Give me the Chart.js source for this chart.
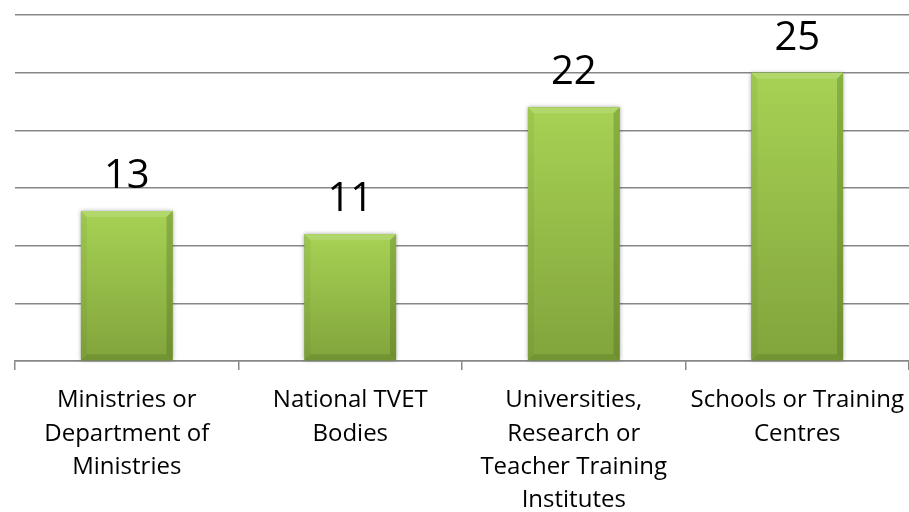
<!DOCTYPE html>
<html>
<head>
<meta charset="utf-8">
<script src="https://cdn.jsdelivr.net/npm/chart.js@4"></script>
<style>
  html, body { margin: 0; padding: 0; background: #fff; }
  #wrap { width: 909px; height: 512px; }
</style>
</head>
<body>
<div id="wrap"><canvas id="chart" width="909" height="512"></canvas></div>
<script>
const categories = [
  ['Ministries or', 'Department of', 'Ministries'],
  ['National TVET', 'Bodies'],
  ['Universities,', 'Research or', 'Teacher Training', 'Institutes'],
  ['Schools or Training', 'Centres'],
];
const counts = [13, 11, 22, 25];
const yMin = 0;
const yMax = 30;
const yStep = 5;

const FONT = '"Open Sans", "Noto Sans", sans-serif';
const GRID = '#878787';

// face gradient, shadow, bevel edges and value label for each bar
const bevelPlugin = {
  id: 'bevel',
  afterDatasetsDraw(chart) {
    const ctx = chart.ctx;
    const meta = chart.getDatasetMeta(0);
    meta.data.forEach((bar, i) => {
      const p = bar.getProps(['x', 'y', 'base', 'width'], true);
      const l = p.x - p.width / 2, r = p.x + p.width / 2;
      const t = p.y, b = p.base;
      const e = 6;
      ctx.save();
      const g = ctx.createLinearGradient(0, t, 0, b);
      g.addColorStop(0, '#a6d254');
      g.addColorStop(1, '#82a43c');
      ctx.shadowColor = 'rgba(0,0,0,0.35)';
      ctx.shadowBlur = 4;
      ctx.fillStyle = g;
      ctx.fillRect(l, t, p.width, b - t);
      ctx.shadowColor = 'transparent';
      ctx.shadowBlur = 0;
      // top
      ctx.fillStyle = 'rgba(255,255,255,0.14)';
      ctx.beginPath();
      ctx.moveTo(l, t); ctx.lineTo(r, t); ctx.lineTo(r - e, t + e); ctx.lineTo(l + e, t + e);
      ctx.closePath(); ctx.fill();
      // left
      ctx.fillStyle = 'rgba(60,90,20,0.08)';
      ctx.beginPath();
      ctx.moveTo(l, t); ctx.lineTo(l + e, t + e); ctx.lineTo(l + e, b - e); ctx.lineTo(l, b);
      ctx.closePath(); ctx.fill();
      // right
      ctx.fillStyle = 'rgba(60,90,20,0.28)';
      ctx.beginPath();
      ctx.moveTo(r, t); ctx.lineTo(r - e, t + e); ctx.lineTo(r - e, b - e); ctx.lineTo(r, b);
      ctx.closePath(); ctx.fill();
      // bottom
      ctx.fillStyle = 'rgba(60,90,20,0.22)';
      ctx.beginPath();
      ctx.moveTo(l, b); ctx.lineTo(r, b); ctx.lineTo(r - e, b - e); ctx.lineTo(l + e, b - e);
      ctx.closePath(); ctx.fill();

      ctx.fillStyle = '#000';
      ctx.font = '40px ' + FONT;
      ctx.textAlign = 'center';
      ctx.textBaseline = 'alphabetic';
      ctx.fillText(String(counts[i]), p.x, t - 23);
      ctx.restore();
    });
  }
};

new Chart(document.getElementById('chart'), {
  type: 'bar',
  data: {
    labels: categories,
    datasets: [{
      data: counts,
      backgroundColor: '#95bf47',
      borderWidth: 0,
      categoryPercentage: 1,
      barPercentage: 0.41,
    }]
  },
  options: {
    responsive: false,
    animation: false,
    devicePixelRatio: 1,
    layout: { padding: { left: 15, top: 15, right: 0, bottom: 0 } },
    plugins: {
      legend: { display: false },
      tooltip: { enabled: false },
    },
    scales: {
      x: {
        afterFit(scale) {
          scale.height = 151;
          scale.paddingLeft = 0;
          scale.paddingRight = 0;
        },
        grid: {
          offset: true,
          drawOnChartArea: false,
          color: GRID,
          lineWidth: 1.5,
          tickLength: 9,
        },
        border: { display: true, color: GRID, width: 1.5 },
        ticks: {
          color: '#000',
          padding: 14,
          maxRotation: 0,
          autoSkip: false,
          font: { family: FONT, size: 24, lineHeight: 1.38 },
        },
      },
      y: {
        min: yMin,
        max: yMax,
        afterFit(scale) { scale.width = 0; },
        ticks: { display: false, stepSize: yStep },
        grid: { color: GRID, lineWidth: 1.5, drawTicks: false },
        border: { display: false },
      }
    }
  },
  plugins: [bevelPlugin]
});
</script>
</body>
</html>
